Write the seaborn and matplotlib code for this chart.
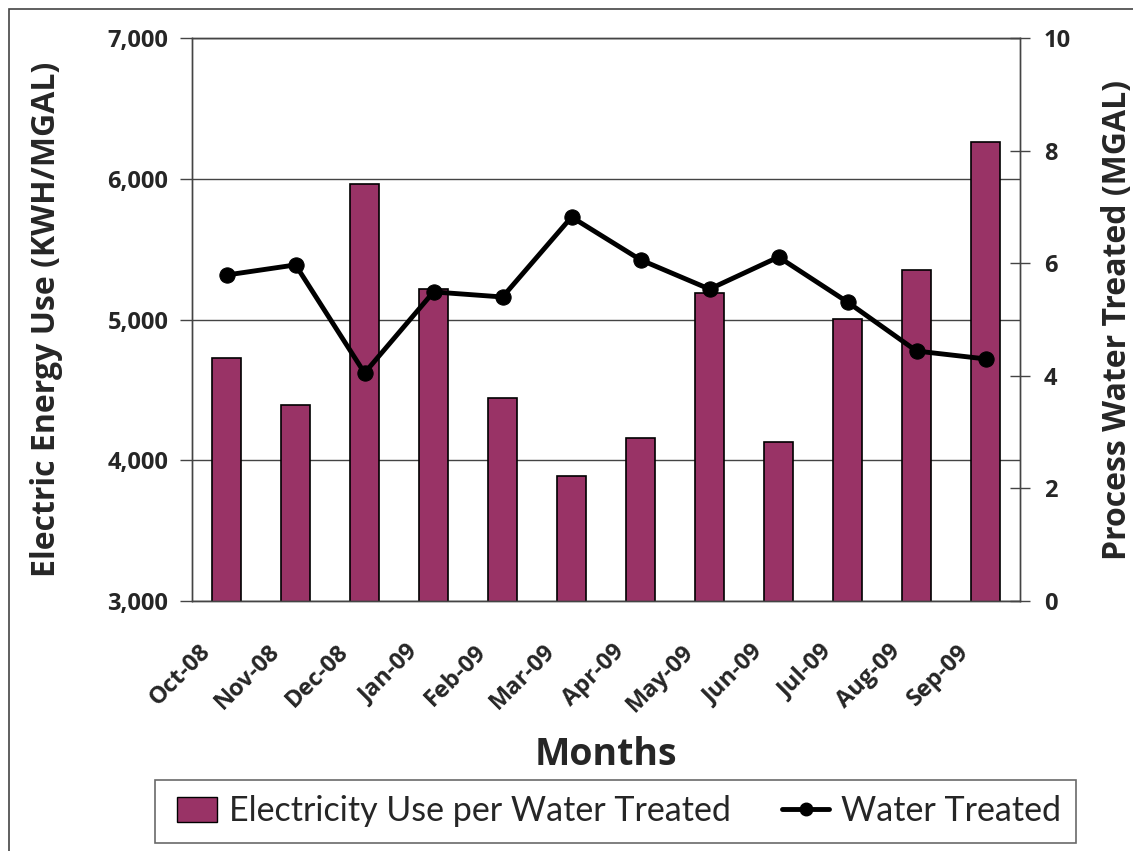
import pandas as pd
import matplotlib.pyplot as plt
import matplotlib.transforms as mtransforms
import seaborn as sns
from matplotlib.patches import Patch, Rectangle
from matplotlib.lines import Line2D
from matplotlib.legend_handler import HandlerPatch

# data
months = ["Oct-08", "Nov-08", "Dec-08", "Jan-09", "Feb-09", "Mar-09",
          "Apr-09", "May-09", "Jun-09", "Jul-09", "Aug-09", "Sep-09"]
kwh_per_mgal = [4725, 4395, 5960, 5215, 4440, 3890, 4160, 5190, 4130, 5005, 5350, 6260]
water_mgal = [5.79, 5.97, 4.05, 5.49, 5.40, 6.82, 6.06, 5.54, 6.11, 5.31, 4.44, 4.30]

df = pd.DataFrame({"Month": months, "KWH": kwh_per_mgal, "Water": water_mgal})

sns.set_style("white")
plt.rcParams["font.family"] = ["Open Sans", "DejaVu Sans"]

bar_color = "#993366"
bold = dict(fontweight="bold", family=["Open Sans", "DejaVu Sans"])

fig = plt.figure(figsize=(11.33, 8.51), dpi=100)
ax = fig.add_axes([0.1695, 0.2938, 0.7308, 0.6615])

sns.barplot(data=df, x="Month", y="KWH", ax=ax, color=bar_color,
            width=0.42, edgecolor="black", linewidth=1.2, saturation=1)
ax.set_ylim(3000, 7000)
ax.set_yticks(range(3000, 7001, 1000))
ax.set_yticklabels([f"{v:,}" for v in range(3000, 7001, 1000)], fontsize=17, **bold)
ax.yaxis.grid(True, color="#444444", linewidth=1)
ax.set_axisbelow(True)
ax.set_xlabel("Months", fontsize=27, labelpad=14, **bold)
ax.set_ylabel("Electric Energy Use (KWH/MGAL)", fontsize=23, labelpad=32, **bold)

# ticks on category boundaries, labels at the centres
ax.set_xticks([i - 0.5 for i in range(len(months) + 1)], minor=False)
ax.set_xticklabels([])
ax.set_xticks(range(len(months)), minor=True)
ax.set_xticklabels(months, minor=True, rotation=45, ha="right",
                   rotation_mode="anchor", fontsize=17, **bold)
ax.tick_params(axis="x", which="major", direction="out", length=8, width=1, color="#444444")
ax.tick_params(axis="x", which="minor", length=0, pad=12)
ax.tick_params(axis="y", direction="out", length=9, width=1, color="#444444", left=True, pad=8)
ax.set_xlim(-0.5, len(months) - 0.5)

# nudge the slanted month labels down and left, like the original
shift = mtransforms.ScaledTranslation(-0.28, -0.22, fig.dpi_scale_trans)
for lab in ax.get_xticklabels(minor=True):
    lab.set_transform(lab.get_transform() + shift)

ax2 = ax.twinx()
sns.lineplot(x=range(len(months)), y=df["Water"], ax=ax2, color="black",
             linewidth=3.5, marker="o", markersize=11, markeredgecolor="black")
ax2.set_ylim(0, 10)
ax2.set_yticks(range(0, 11, 2))
ax2.set_yticklabels([str(v) for v in range(0, 11, 2)], fontsize=17, **bold)
ax2.set_ylabel("Process Water Treated (MGAL)", fontsize=23, labelpad=22, **bold)
ax2.tick_params(axis="y", direction="inout", length=14, width=1, color="#444444",
                right=True, pad=10)
ax2.set_xlim(-0.5, len(months) - 0.5)

for a in (ax, ax2):
    for s in a.spines.values():
        s.set_color("#444444")
        s.set_linewidth(1)


def square_patch(legend, orig_handle, xdescent, ydescent, width, height, fontsize):
    w = width * 0.87
    h = 18
    return Rectangle((-xdescent + width - w, -ydescent + (height - h) / 2), w, h)


handles = [Patch(facecolor=bar_color, edgecolor="black", linewidth=1),
           Line2D([0], [0], color="black", linewidth=3.5, marker="o", markersize=9)]
leg = fig.legend(handles, ["Electricity Use per Water Treated", "Water Treated"],
                 loc="center", bbox_to_anchor=(0.5435, 0.0465), ncol=2,
                 prop={"family": ["Lato", "DejaVu Sans"], "size": 24.5},
                 frameon=True, fancybox=False, edgecolor="#444444",
                 handlelength=1.38, handleheight=0.8, handletextpad=0.35,
                 columnspacing=1.5, borderpad=0.45, borderaxespad=0,
                 handler_map={Patch: HandlerPatch(patch_func=square_patch)})
leg.get_frame().set_linewidth(1.2)

# outer chart border (only top and left edges are inside the image)
fig.patches.append(Rectangle((0.008, -0.1), 1.2, 1.0894, transform=fig.transFigure,
                             fill=False, edgecolor="#444444", linewidth=1.2))

fig.savefig("out.png", dpi=100)
